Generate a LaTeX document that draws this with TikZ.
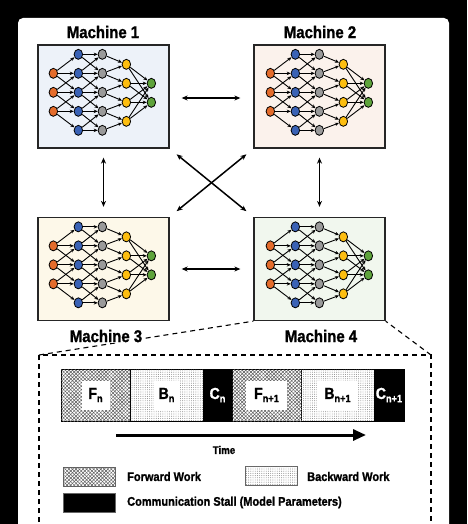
\documentclass[tikz,border=0pt]{standalone}
\usepackage{fontspec}
\setmainfont{Liberation Sans}[FakeStretch=0.88,BoldFeatures={FakeBold=1.2}]
\usetikzlibrary{shapes.geometric,arrows.meta,patterns.meta}
\definecolor{cO}{HTML}{E46C2C}
\definecolor{cB}{HTML}{3A62B5}
\definecolor{cG}{HTML}{9A9A9A}
\definecolor{cY}{HTML}{FDBE10}
\definecolor{cN}{HTML}{5EA33B}
\definecolor{bx1}{HTML}{EDF2F9}
\definecolor{bx2}{HTML}{FBF2EC}
\definecolor{bx3}{HTML}{FDF8E9}
\definecolor{bx4}{HTML}{F1F7EE}
\newcommand{\sbs}[1]{\raisebox{-3.2pt}{\fontsize{10.5}{10.5}\selectfont #1}}
\tikzset{
  nn/.style={ellipse,draw=black,line width=0.8pt,minimum width=8.5pt,minimum height=10pt,inner sep=0pt},
  ne/.style={line width=0.9pt,-{Stealth[length=4pt,width=3.5pt]}},
  mbox/.style={draw=black!85,line width=1.3pt,minimum width=131pt,minimum height=103pt,inner sep=0pt},
  mlab/.style={font=\fontsize{17}{20}\selectfont\bfseries,inner sep=1pt},
  biarrow/.style={line width=1.5pt,{Stealth[length=6pt,width=5pt]}-{Stealth[length=6pt,width=5pt]}},
  dline/.style={line width=1.1pt,dash pattern=on 5pt off 4pt},
  seg/.style={draw=black,line width=0.6pt,minimum height=52pt,inner sep=0pt},
  fwd/.style={fill=white,pattern={Lines[angle=45,distance=2.5pt,line width=0.5pt]},pattern color=black!65,
      postaction={pattern={Lines[angle=-45,distance=2.5pt,line width=0.5pt]},pattern color=black!65}},
  bwd/.style={fill=white,postaction={pattern={Dots[distance=2.2pt,radius=0.45pt]},pattern color=black!55}},
  slab/.style={fill=white,inner sep=0pt,minimum height=29pt,font=\fontsize{16}{18}\selectfont\bfseries},
  legtxt/.style={anchor=west,inner sep=0pt,font=\fontsize{12.5}{14}\selectfont\bfseries},
  legbox/.style={draw=black!60,line width=0.6pt,minimum width=52pt,minimum height=19pt,inner sep=0pt},
  net/.pic={
    \foreach \i/\y in {1/29,2/48,3/67} \node[nn,fill=cO] (-o\i) at (16,\y) {};
    \foreach \i/\y in {1/10,2/29,3/48,4/67,5/86} {\node[nn,fill=cB] (-b\i) at (41,\y) {}; \node[nn,fill=cG] (-g\i) at (65,\y) {};}
    \foreach \i/\y in {1/20,2/39,3/58,4/77} \node[nn,fill=cY] (-y\i) at (89,\y) {};
    \foreach \i/\y in {1/39,2/58} \node[nn,fill=cN] (-n\i) at (114,\y) {};
    \foreach \i in {1,2,3} \foreach \d in {0,1,2} {\pgfmathtruncatemacro\j{\i+\d}\draw[ne] (-o\i) -- (-b\j);}
    \foreach \i in {1,...,5} \foreach \d in {-1,0,1} {\pgfmathtruncatemacro\j{\i+\d}
       \ifnum\j>0 \ifnum\j<6 \draw[ne] (-b\i) -- (-g\j); \fi\fi}
    \foreach \i in {1,...,5} \foreach \d in {-1,0} {\pgfmathtruncatemacro\j{\i+\d}
       \ifnum\j>0 \ifnum\j<5 \draw[ne] (-g\i) -- (-y\j); \fi\fi}
    \foreach \i in {1,...,4} \foreach \j in {1,2} \draw[ne] (-y\i) -- (-n\j);
  }
}
\begin{document}
\begin{tikzpicture}[x=1pt,y=-1pt]
\useasboundingbox (0,0) rectangle (467,524);
\fill[black] (0,0) rectangle (467,524);
\fill[white,rounded corners=5pt] (18,18) rectangle (449,560);
% machines
\node[mbox,fill=bx1] (M1) at (103.5,96.5) {};
\node[mbox,fill=bx2] (M2) at (319.5,96.5) {};
\node[mbox,fill=bx3] (M3) at (103.5,269) {};
\node[mbox,fill=bx4] (M4) at (319.5,269) {};
\pic (m1) at (M1.north west) {net};
\pic (m2) at ([xshift=1pt]M2.north west) {net};
\pic (m3) at (M3.north west) {net};
\pic (m4) at ([xshift=1pt]M4.north west) {net};
% arrows
\draw[biarrow,shorten <=12pt,shorten >=13pt] ([yshift=-1.5pt]M1.east) -- ([yshift=-1.5pt]M2.west);
\draw[biarrow,shorten <=12pt,shorten >=13pt] (M3.east) -- (M4.west);
\draw[biarrow,shorten <=9pt,shorten >=10pt] (M1.south) -- (M3.north);
\draw[biarrow,shorten <=9pt,shorten >=10pt] (M2.south) -- (M4.north);
\draw[biarrow,shorten <=9pt,shorten >=9pt] (M1.south east) -- (M4.north west);
\draw[biarrow,shorten <=9pt,shorten >=9pt] (M2.south west) -- (M3.north east);
% dashed zoom box
\coordinate (dl) at (39,355);
\coordinate (dr) at (431,355);
\draw[dline] (39,540) -- (dl) -- (dr) -- (431,540);
\draw[dline] (dl) -- (M4.south west);
\draw[dline] (dr) -- (M4.south east);
% labels
\node[mlab] (L1) at (103,32) {Machine 1};
\node[mlab] (L2) at (320,32) {Machine 2};
\node[mlab,fill=white] (L3) at (106,336) {Machine 3};
\node[mlab] (L4) at (321,336) {Machine 4};
% timeline
\node[seg,fwd,minimum width=69pt] (s1) at (95.5,395) {};
\node[seg,bwd,minimum width=73pt] (s2) at (166.5,395) {};
\node[seg,fill=black,minimum width=29pt] (s3) at (217.5,395) {};
\node[seg,fwd,minimum width=69pt] (s4) at (266.5,395) {};
\node[seg,bwd,minimum width=73pt] (s5) at (337.5,395) {};
\node[seg,fill=black,minimum width=30pt] (s6) at (389,395) {};
\node[slab,minimum width=28pt] (t1) at (s1) {F\sbs{n}};
\node[slab,minimum width=26pt] (t2) at (s2) {B\sbs{n}};
\node[slab,fill=none,text=white] (t3) at (s3) {C\sbs{n}};
\node[slab,minimum width=41pt] (t4) at (s4) {F\sbs{n+1}};
\node[slab,minimum width=41pt] (t5) at (s5) {B\sbs{n+1}};
\node[slab,fill=none,text=white] (t6) at (s6) {C\sbs{n+1}};
\coordinate (ta) at (116,435);
\coordinate (tb) at (366,435);
\draw[line width=3pt,-{Triangle[length=13pt,width=11pt]}] (ta) -- (tb);
\node[font=\fontsize{11}{12}\selectfont\bfseries] (time) at (224,450) {Time};
% legend
\node[legbox,fwd] (k1) at (89,476.5) {};
\node[legtxt] (k1t) at (127,476.5) {Forward Work};
\node[legbox,bwd] (k2) at (271.5,476) {};
\node[legtxt] (k2t) at (307,476.5) {Backward Work};
\node[legbox,fill=black] (k3) at (89,502.5) {};
\node[legtxt] (k3t) at (127,502.5) {Communication Stall (Model Parameters)};
\end{tikzpicture}
\end{document}
